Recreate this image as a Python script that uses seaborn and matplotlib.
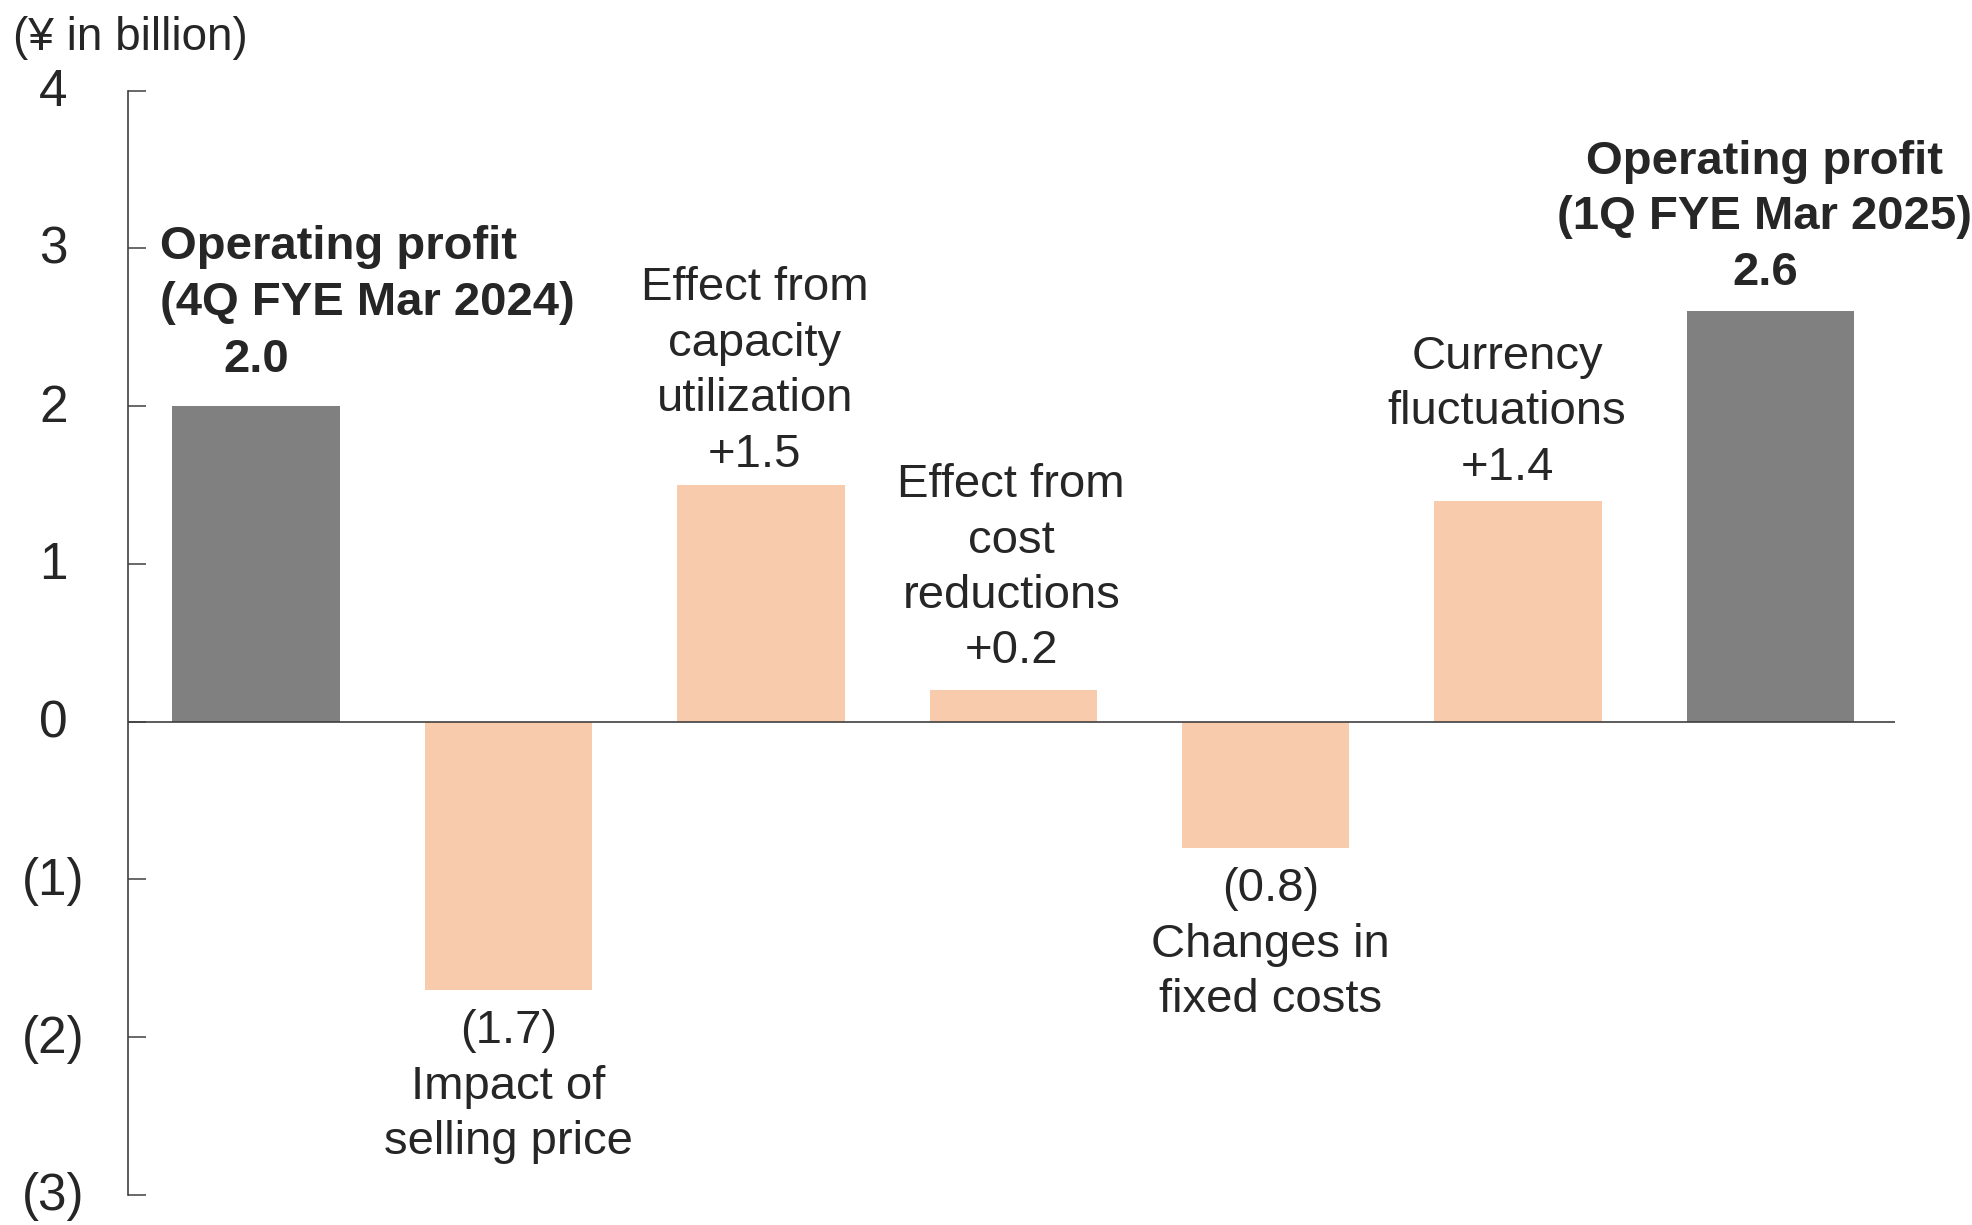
import matplotlib
matplotlib.use("Agg")
import matplotlib.pyplot as plt
import matplotlib.transforms as mtransforms
import seaborn as sns
import pandas as pd

# ---- data ----
categories = ["OP 4Q FYE Mar 2024", "Selling price", "Capacity utilization",
              "Cost reductions", "Fixed costs", "Currency", "OP 1Q FYE Mar 2025"]
values = [2.0, -1.7, 1.5, 0.2, -0.8, 1.4, 2.6]
kinds = ["total", "delta", "delta", "delta", "delta", "delta", "total"]
value_labels = ["2.0", "(1.7)", "+1.5", "+0.2", "(0.8)", "+1.4", "2.6"]
desc_labels = ["Operating profit\n(4Q FYE Mar 2024)",
               "Impact of\nselling price",
               "Effect from\ncapacity\nutilization",
               "Effect from\ncost\nreductions",
               "Changes in\nfixed costs",
               "Currency\nfluctuations",
               "Operating profit\n(1Q FYE Mar 2025)"]
ytick_vals = [-3, -2, -1, 0, 1, 2, 3, 4]
ytick_labels = ["(3)", "(2)", "(1)", "0", "1", "2", "3", "4"]
unit_label = "(¥ in billion)"

GRAY = "#808080"
PEACH = "#f8cbad"
TXT = "#262626"
AX = "#404040"

sns.set_theme(style="white")
plt.rcParams["font.family"] = ["Liberation Sans", "DejaVu Sans"]

df = pd.DataFrame({"cat": categories, "val": values, "kind": kinds})

fig = plt.figure(figsize=(19.72, 12.25), dpi=100)
ax = fig.add_axes([0.0651, 0.02465, 0.9612 - 0.0651, 0.9261 - 0.02465])

sns.barplot(data=df, x="cat", y="val", hue="kind",
            palette={"total": GRAY, "delta": PEACH}, saturation=1,
            width=0.663, dodge=False, legend=False, linewidth=0, ax=ax)

ax.set_xlim(-0.506, 6.495)
ax.set_ylim(-3, 4)
ax.set_xlabel("")
ax.set_ylabel("")
ax.set_xticks([])
for s in ["top", "right", "bottom"]:
    ax.spines[s].set_visible(False)
ax.spines["left"].set_color(AX)
ax.spines["left"].set_linewidth(1.2)
ax.axhline(0, color=AX, lw=1.2, zorder=3)

ax.set_yticks(ytick_vals)
ax.set_yticklabels(ytick_labels, ha="center", va="center_baseline")
ax.tick_params(axis="y", direction="in", length=12.7, width=1.1, color=AX,
               pad=54, labelsize=37, labelcolor=TXT, left=True)
shift = mtransforms.ScaledTranslation(0, 2.5 / 72, fig.dpi_scale_trans)
for lab in ax.get_yticklabels():
    lab.set_transform(lab.get_transform() + shift)

FS = 34
LS = 1.335
# label offsets (points): (dx, dy)
offsets = {1: (0, -14), 2: (-4.5, 6), 3: (-1.5, 12), 4: (3.5, -14), 5: (-8, 8)}
for i, (v, k) in enumerate(zip(values, kinds)):
    if k == "total":
        continue
    dx, dy = offsets[i]
    if v >= 0:
        ax.annotate(desc_labels[i] + "\n" + value_labels[i], xy=(i, v),
                    xytext=(dx, dy), textcoords="offset points",
                    ha="center", va="bottom", fontsize=FS, color=TXT,
                    multialignment="center", linespacing=LS)
    else:
        ax.annotate(value_labels[i] + "\n" + desc_labels[i], xy=(i, v),
                    xytext=(dx, dy), textcoords="offset points",
                    ha="center", va="top", fontsize=FS, color=TXT,
                    multialignment="center", linespacing=LS)

# first total: left-aligned header, centered value
ax.annotate(value_labels[0], xy=(0, values[0]), xytext=(0, 17),
            textcoords="offset points", ha="center", va="bottom",
            fontsize=FS, fontweight="bold", color=TXT)
ax.annotate(desc_labels[0], xy=(-0.381, values[0]), xytext=(0, 17 + 41.5),
            textcoords="offset points", ha="left", va="bottom",
            fontsize=FS, fontweight="bold", color=TXT, multialignment="left",
            linespacing=LS)
# last total
ax.annotate(desc_labels[6] + "\n" + value_labels[6], xy=(6, values[6]),
            xytext=(-4, 12), textcoords="offset points", ha="center",
            va="bottom", fontsize=FS, fontweight="bold", color=TXT,
            multialignment="center", linespacing=LS)

fig.text(0.0064, 0.969, unit_label, fontsize=33, color=TXT,
         ha="left", va="center")

fig.savefig("out.png", dpi=100)
